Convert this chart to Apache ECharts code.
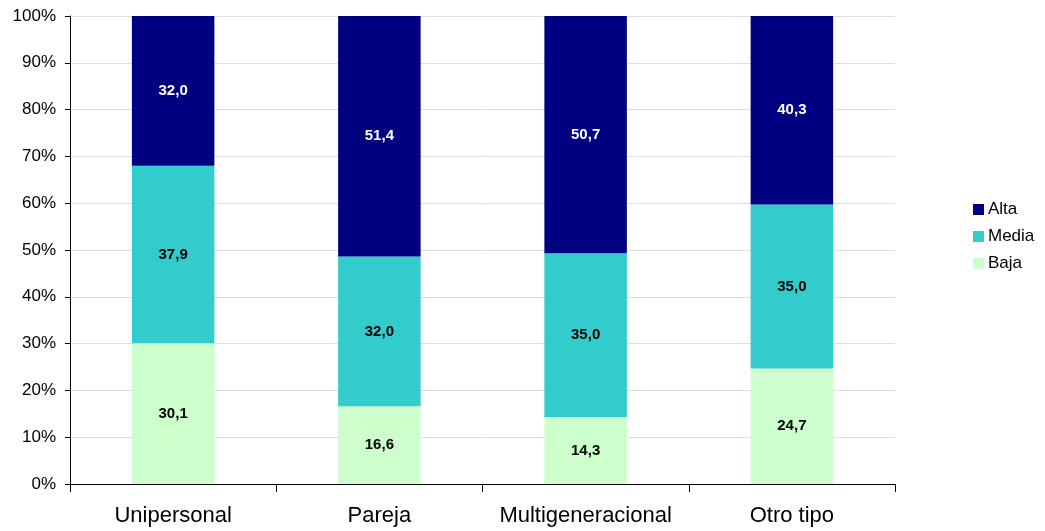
<!DOCTYPE html>
<html><head><meta charset="utf-8">
<script src="https://cdn.jsdelivr.net/npm/echarts@6/dist/echarts.min.js"></script>
<style>html,body{margin:0;padding:0;background:#fff}#c{width:1045px;height:531px}</style>
</head><body><div id="c"></div>
<script>
const categories = ['Unipersonal', 'Pareja', 'Multigeneracional', 'Otro tipo'];
const baja = [30.1, 16.6, 14.3, 24.7];
const media = [37.9, 32.0, 35.0, 35.0];
const alta = [32.0, 51.4, 50.7, 40.3];
const seriesNames = ['Alta', 'Media', 'Baja'];

const font = '"Liberation Sans", Arial, sans-serif';
const fmt = p => p.value.toFixed(1).replace('.', ',');
function mk(name, data, color, labelColor) {
  return {
    name, type: 'bar', stack: 't', data, barWidth: '40%',
    itemStyle: { color },
    label: { show: true, position: 'inside', formatter: fmt, color: labelColor,
      fontFamily: font, fontWeight: 'bold', fontSize: 15 }
  };
}
const chart = echarts.init(document.getElementById('c'), null, { renderer: 'canvas' });
chart.setOption({
  animation: false,
  grid: { left: 70, right: 150, top: 16, bottom: 47 },
  legend: {
    data: seriesNames, orient: 'vertical', left: 968, top: 196,
    itemWidth: 11, itemHeight: 11, itemGap: 10, icon: 'rect',
    textStyle: { fontFamily: font, fontSize: 17, color: '#000', padding: [0, 0, 0, -1] },
    selectedMode: false
  },
  xAxis: {
    type: 'category', data: categories,
    axisLine: { lineStyle: { color: '#000', width: 1 } },
    axisTick: { show: true, interval: 0, length: 8, alignWithLabel: false, lineStyle: { color: '#000' } },
    axisLabel: { interval: 0, fontFamily: font, fontSize: 22, color: '#000', margin: 21 }
  },
  yAxis: {
    type: 'value', min: 0, max: 100, interval: 10,
    axisLine: { show: true, lineStyle: { color: '#000' } },
    axisTick: { show: true, length: 5, lineStyle: { color: '#000' } },
    splitLine: { lineStyle: { color: '#dedede' } },
    axisLabel: { fontFamily: font, fontSize: 17, color: '#000', formatter: '{value}%', margin: 14 }
  },
  series: [
    mk('Baja', baja, '#CCFFCC', '#000'),
    mk('Media', media, '#33CCCC', '#000'),
    mk('Alta', alta, '#000080', '#fff')
  ]
});
</script></body></html>
